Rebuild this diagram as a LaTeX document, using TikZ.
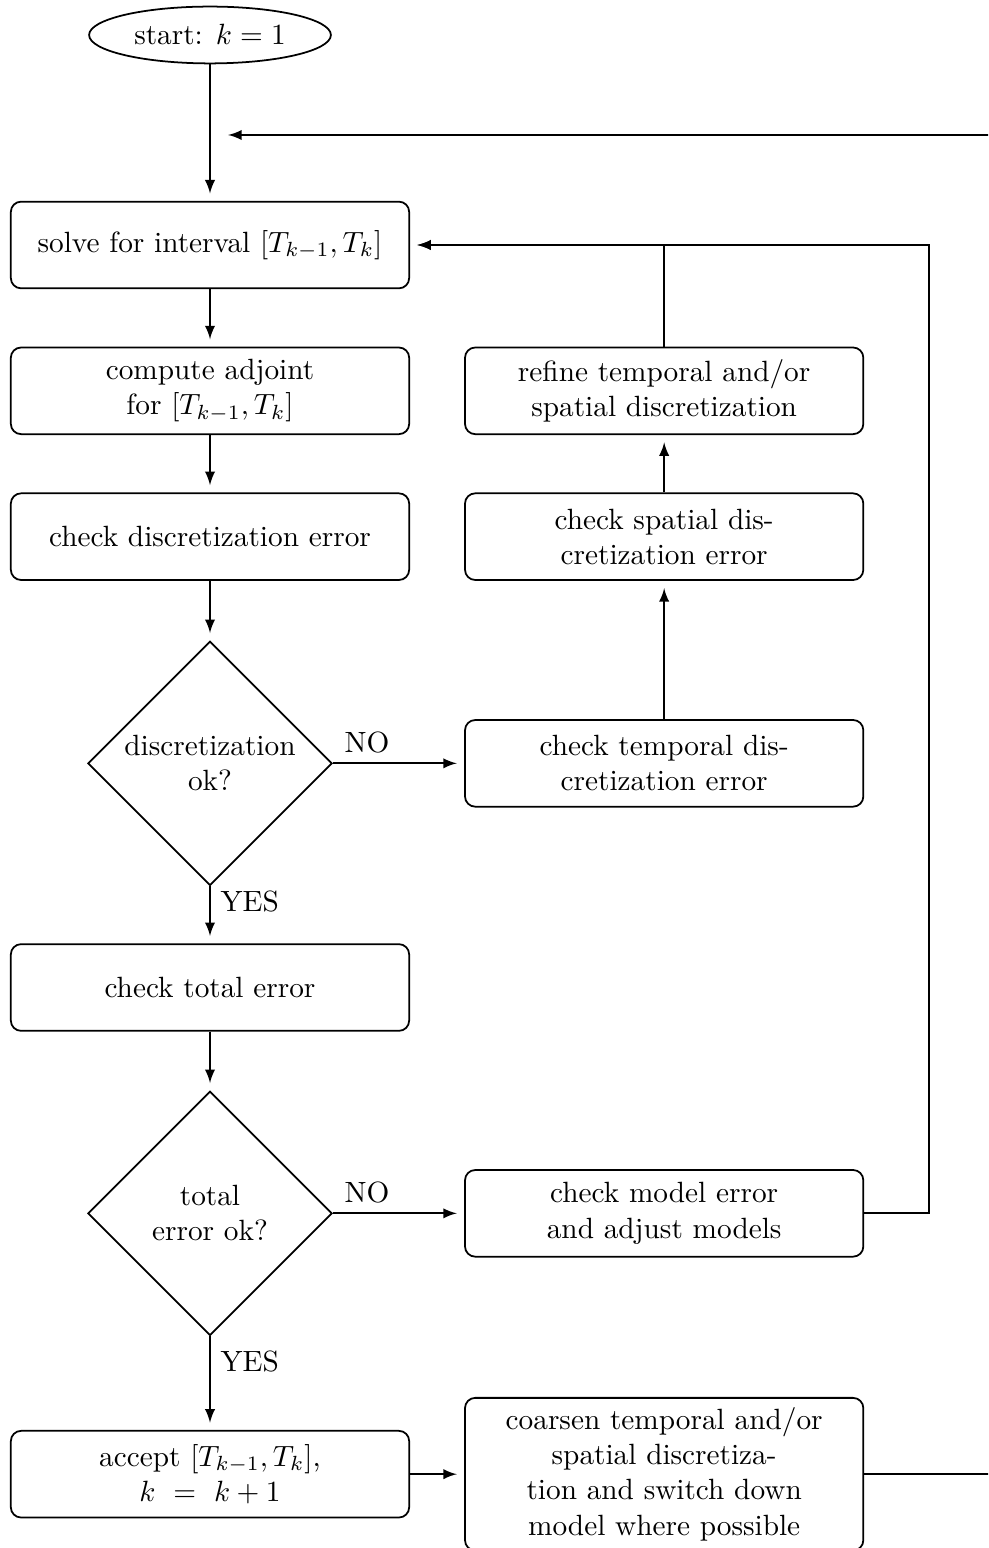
\documentclass[tikz,border=0pt]{standalone}
\usetikzlibrary{shapes.geometric}

\begin{document}
\begin{tikzpicture}[>=latex, semithick,
    block/.style={draw, rounded corners=3.5pt, align=center, minimum width=4.78cm, minimum height=1.04cm},
    decision/.style={draw, diamond, aspect=1, align=center, inner sep=0pt, minimum width=2.93cm, minimum height=2.93cm},
    terminal/.style={draw, ellipse},
    arr/.style={->, shorten >=2.5pt}]
    \useasboundingbox (0,0) rectangle (11.856,-18.576);
    \clip (0,0) rectangle (11.856,-18.576);

    % Main column
    \node[terminal] (start) at (2.52,-0.42) {start: $k=1$};
    \node[block] (solve) at (2.52,-2.94) {solve for interval $[T_{k-1},T_k]$};
    \node[block] (adjoint) at (2.52,-4.69) {compute adjoint\\ for $[T_{k-1},T_k]$};
    \node[block] (discerr) at (2.52,-6.44) {check discretization error};
    \node[decision] (discok) at (2.52,-9.16) {discretization\\ ok?};
    \node[block] (totalerr) at (2.52,-11.85) {check total error};
    \node[decision] (totalok) at (2.52,-14.56) {total\\ error ok?};
    \node[block] (accept) at (2.52,-17.69) {accept $[T_{k-1},T_k]$,\\ $k\ =\ k+1$};

    % Side column
    \node[block] (refine) at (7.97,-4.69) {refine temporal and/or\\ spatial discretization};
    \node[block] (spatial) at (7.97,-6.44) {check spatial dis-\\cretization error};
    \node[block] (temporal) at (7.97,-9.16) {check temporal dis-\\cretization error};
    \node[block] (model) at (7.97,-14.56) {check model error\\ and adjust models};
    \node[block] (coarsen) at (7.97,-17.69) {coarsen temporal and/or\\ spatial discretiza-\\tion and switch down\\ model where possible};

    % Entry point of the outer loop
    \coordinate (loopin) at (2.65,-1.62);

    % Main flow
    \draw[arr] (start) -- (solve);
    \draw[arr] (solve) -- (adjoint);
    \draw[arr] (adjoint) -- (discerr);
    \draw[arr] (discerr) -- (discok);
    \draw[arr] (discok) -- node[pos=0.27,right] {YES} (totalerr);
    \draw[arr] (totalerr) -- (totalok);
    \draw[arr] (totalok) -- node[pos=0.27,right] {YES} (accept);
    \draw[arr] (accept) -- (coarsen);

    % Refinement branch
    \draw[arr] (discok) -- node[pos=0.26,above] {NO} (temporal);
    \draw[arr] (temporal) -- (spatial);
    \draw[arr] (spatial) -- (refine);
    \draw[arr] (refine) |- (solve);

    % Model branch
    \draw[arr] (totalok) -- node[pos=0.26,above] {NO} (model);
    \draw[arr] (model.east) -- ++(0.78,0) |- (solve.east);

    % Back to the next interval
    \draw[arr] (coarsen.east) -- ++(3.5,0) |- (loopin);
\end{tikzpicture}
\end{document}
